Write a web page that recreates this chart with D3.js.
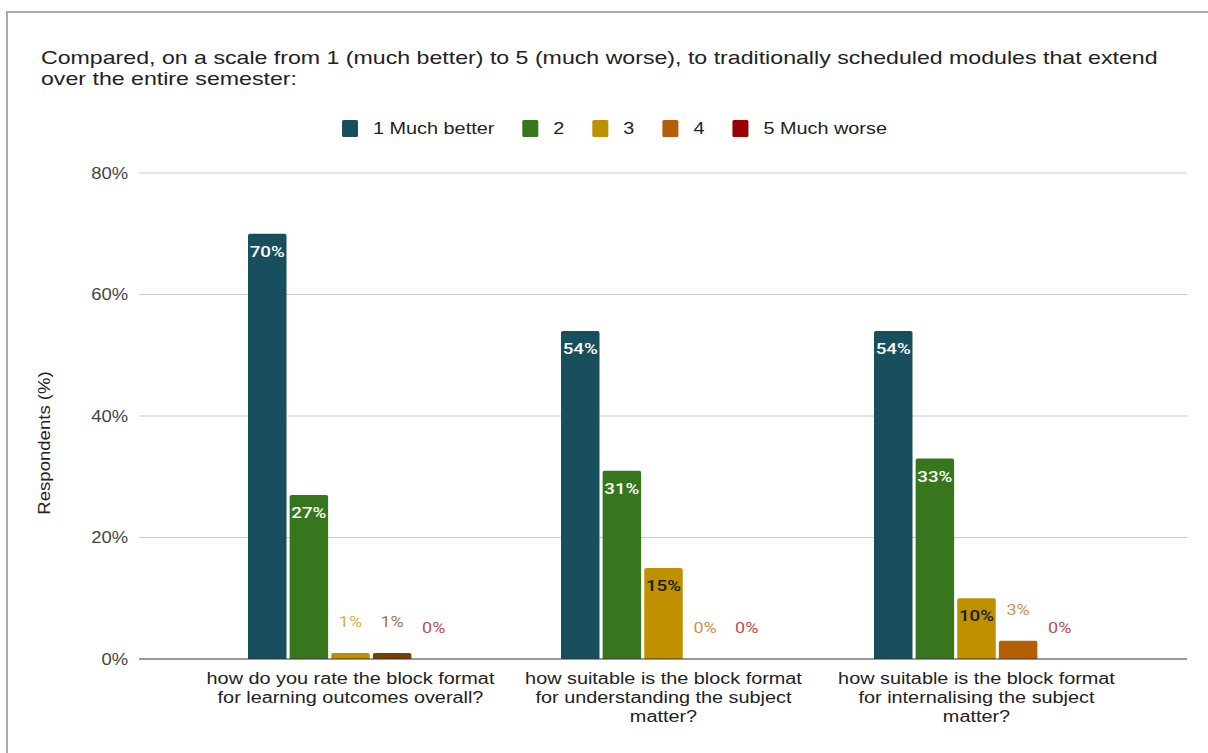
<!DOCTYPE html>
<html>
<head>
<meta charset="utf-8">
<script src="https://cdnjs.cloudflare.com/ajax/libs/d3/7.8.5/d3.min.js"></script>
<style>
  html, body { margin: 0; padding: 0; background: #fff; }
  svg { display: block; }
</style>
</head>
<body>
<svg id="chart" width="1208" height="753"></svg>
<script>
// ---- data ----
const titleLines = [
  "Compared, on a scale from 1 (much better) to 5 (much worse), to traditionally scheduled modules that extend",
  "over the entire semester:"
];
const categories = [
  ["how do you rate the block format", "for learning outcomes overall?"],
  ["how suitable is the block format", "for understanding the subject", "matter?"],
  ["how suitable is the block format", "for internalising the subject", "matter?"]
];
const seriesNames = ["1 Much better", "2", "3", "4", "5 Much worse"];
const seriesColors = ["#174f5c", "#38761d", "#bf9000", "#b45f06", "#990000"];
const s1 = [70, 54, 54];
const s2 = [27, 31, 33];
const s3 = [1, 15, 10];
const s4 = [1, 0, 3];
const s5 = [0, 0, 0];
const seriesValues = [s1, s2, s3, s4, s5];
// the first question's "4" bar was drawn in a darker brown
const pointColorOverrides = [{ series: 3, cat: 0, color: "#783f04" }];
const yTicks = [0, 20, 40, 60, 80];
const yTitle = "Respondents (%)";

// ---- drawing ----
const svg = d3.select("#chart");
const font = "Arial, 'Liberation Sans', sans-serif";
const labelFont = "Roboto, 'Liberation Sans', Arial, sans-serif";

// horizontally widen text around its anchor (the reference glyphs are wide)
function widen(textSel, k) {
  textSel.each(function () {
    const len = this.getComputedTextLength();
    d3.select(this).attr("textLength", len * k).attr("lengthAdjust", "spacingAndGlyphs");
  });
}

// frame
svg.append("path")
  .attr("d", "M7,753 V12 H1208")
  .attr("fill", "none").attr("stroke", "#aaaaaa").attr("stroke-width", 2);

// title
const title = svg.append("text")
  .attr("font-family", font).attr("font-size", 19).attr("fill", "#222");
title.selectAll("tspan").data(titleLines).join("tspan")
  .attr("x", 41).attr("y", (d, i) => 64 + i * 21)
  .text(d => d);
widen(title.selectAll("tspan"), 1.218);

const plotLeft = 139, plotRight = 1187;
const y = d3.scaleLinear().domain([0, 80]).range([659, 173]);
const x0 = d3.scaleBand().domain(d3.range(categories.length)).range([194, 1133]).padding(0);
const groupW = 205;
const x1 = d3.scaleBand().domain(d3.range(seriesNames.length)).range([0, groupW]).paddingInner(0.075).paddingOuter(0);

// gridlines
svg.append("g").selectAll("line").data(yTicks.filter(t => t > 0)).join("line")
  .attr("x1", plotLeft).attr("x2", plotRight)
  .attr("y1", d => y(d)).attr("y2", d => y(d))
  .attr("stroke", "#cccccc").attr("stroke-width", 1);

// y axis tick labels
const yAxis = d3.axisLeft(y).tickValues(yTicks).tickSize(0).tickPadding(0).tickFormat(d => d + "%");
const yg = svg.append("g").attr("transform", `translate(128,0)`).call(yAxis);
yg.select(".domain").remove();
yg.selectAll("text").attr("font-family", font).attr("font-size", 16).attr("fill", "#444");
widen(yg.selectAll("text"), 1.15);

// y axis title
const yt = svg.append("text")
  .attr("transform", `translate(50,443) rotate(-90)`)
  .attr("text-anchor", "middle")
  .attr("font-family", font).attr("font-size", 16).attr("fill", "#222")
  .text(yTitle);
widen(yt, 1.16);

// bars
const flat = [];
seriesValues.forEach((vals, si) => vals.forEach((v, ci) => {
  const ov = pointColorOverrides.find(o => o.series === si && o.cat === ci);
  flat.push({ si, ci, v, color: ov ? ov.color : seriesColors[si] });
}));

const bx = d => x0(d.ci) + (x0.bandwidth() - groupW) / 2 + x1(d.si);

svg.append("g").selectAll("path").data(flat.filter(d => d.v > 0)).join("path")
  .attr("d", d => {
    const x = bx(d), w = x1.bandwidth(), top = y(d.v), bot = y(0), r = Math.min(2, (bot - top) / 2);
    return `M${x},${bot} V${top + r} Q${x},${top} ${x + r},${top} H${x + w - r} Q${x + w},${top} ${x + w},${top + r} V${bot} Z`;
  })
  .attr("fill", d => d.color);

// x axis baseline
svg.append("line")
  .attr("x1", plotLeft).attr("x2", plotRight)
  .attr("y1", y(0)).attr("y2", y(0))
  .attr("stroke", "#333").attr("stroke-width", 1.2);

// value labels
const lighten = (c, k) => d3.interpolateRgb(c, "#ffffff")(k);
const labels = svg.append("g").attr("font-family", labelFont).attr("font-size", 15).attr("text-anchor", "middle");
flat.forEach(d => {
  const cx = bx(d) + x1.bandwidth() / 2;
  const inside = d.v >= 5;
  const t = labels.append("text").attr("x", cx).text(d.v + "%");
  if (inside) {
    const dark = d.si < 2;
    t.attr("y", y(d.v) + 23)
      .attr("font-weight", 500)
      .attr("fill", dark ? "#ffffff" : "#1a1a1a");
    widen(t, 1.25);
  } else {
    t.attr("y", y(d.v) - 26)
      .attr("fill", lighten(d.color, 0.3));
    widen(t, 1.2);
  }
});

// x category labels
categories.forEach((lines, ci) => {
  const t = svg.append("text")
    .attr("text-anchor", "middle")
    .attr("font-family", font).attr("font-size", 16).attr("fill", "#222");
  t.selectAll("tspan").data(lines).join("tspan")
    .attr("x", x0(ci) + x0.bandwidth() / 2)
    .attr("y", (d, i) => 684 + i * 19)
    .text(d => d);
  widen(t.selectAll("tspan"), 1.24);
});

// legend
const legendItems = seriesNames.map((n, i) => ({ n, c: seriesColors[i] }));
const lg = svg.append("g").attr("font-family", font).attr("font-size", 16).attr("fill", "#222");
let lx = 342;
legendItems.forEach(it => {
  lg.append("rect").attr("x", lx).attr("y", 120).attr("width", 16).attr("height", 17).attr("rx", 1.5).attr("fill", it.c);
  const t = lg.append("text").attr("x", lx + 31).attr("y", 134).text(it.n);
  const w = t.node().getComputedTextLength() * 1.24;
  widen(t, 1.24);
  lx = lx + 31 + w + 28;
});
</script>
</body>
</html>
